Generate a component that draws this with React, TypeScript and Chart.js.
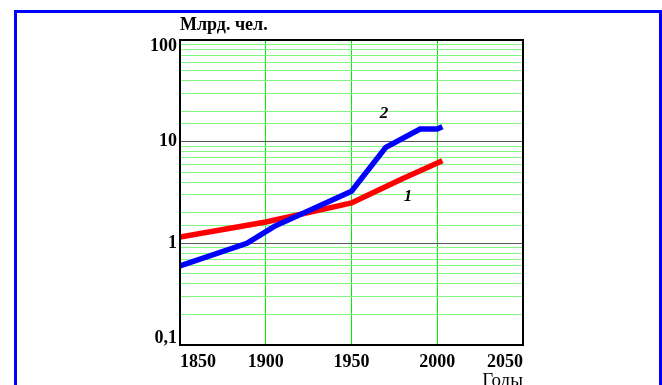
import React, { useEffect, useRef } from "react";
import { Chart, registerables } from "chart.js";

Chart.register(...registerables);

// Series 1 (red)
const years1 = [1850, 1900, 1930, 1950, 1960, 1980, 2003];
const values1 = [1.15, 1.62, 2.1, 2.5, 3.0, 4.35, 6.5];

// Series 2 (blue)
const years2 = [1850, 1889, 1905, 1950, 1970, 1990, 2000, 2003];
const values2 = [0.6, 1.0, 1.47, 3.25, 8.8, 13.3, 13.3, 14.0];

const xTicks = [1850, 1900, 1950, 2000, 2050];
const yLabelValues = [0.1, 1, 10, 100];

const yAxisTitle = "Млрд. чел.";
const xAxisTitle = "Годы";
const seriesLabel1 = "1";
const seriesLabel2 = "2";

const SERIF = "'Liberation Serif', 'Times New Roman', serif";

function isDecade(v: number) {
  const l = Math.log10(v);
  return Math.abs(l - Math.round(l)) < 1e-6;
}

const textPlugin = {
  id: "texts",
  afterDraw(chart: any) {
    const { ctx, chartArea, scales } = chart;
    const x = scales.x;
    const y = scales.y;
    ctx.save();
    // frame
    ctx.strokeStyle = "#000";
    ctx.lineWidth = 2;
    ctx.strokeRect(chartArea.left, chartArea.top, chartArea.right - chartArea.left, chartArea.bottom - chartArea.top);
    ctx.fillStyle = "#000";
    // y axis title
    ctx.font = `bold 18px ${SERIF}`;
    ctx.textAlign = "left";
    ctx.textBaseline = "alphabetic";
    ctx.fillText(yAxisTitle, chartArea.left, chartArea.top - 10);
    // x axis title
    ctx.font = `19px ${SERIF}`;
    ctx.textAlign = "right";
    ctx.fillText(xAxisTitle, chartArea.right, chartArea.bottom + 41);
    // series labels
    ctx.font = `italic bold 17px ${SERIF}`;
    ctx.textAlign = "center";
    ctx.fillText(seriesLabel2, x.getPixelForValue(1969), y.getPixelForValue(20) + 7);
    ctx.fillText(seriesLabel1, x.getPixelForValue(1983), y.getPixelForValue(2.6));
    ctx.restore();
  },
};

export default function App() {
  const ref = useRef<HTMLCanvasElement | null>(null);

  useEffect(() => {
    if (!ref.current) return;
    const chart = new Chart(ref.current, {
      type: "line",
      data: {
        datasets: [
          {
            label: seriesLabel1,
            data: years1.map((yr, i) => ({ x: yr, y: values1[i] })),
            borderColor: "#ff0000",
            backgroundColor: "#ff0000",
            borderWidth: 5.5,
            pointRadius: 0,
            tension: 0,
            order: 1,
          },
          {
            label: seriesLabel2,
            data: years2.map((yr, i) => ({ x: yr, y: values2[i] })),
            borderColor: "#0000ff",
            backgroundColor: "#0000ff",
            borderWidth: 5.5,
            pointRadius: 0,
            tension: 0,
            order: 0,
          },
        ],
      },
      options: {
        animation: false,
        responsive: false,
        events: [],
        layout: { padding: { left: 0, top: 40, right: 139, bottom: 0 } },
        plugins: {
          legend: { display: false },
          tooltip: { enabled: false },
          title: { display: false },
        },
        scales: {
          x: {
            type: "linear",
            min: 1850,
            max: 2050,
            afterFit: (s: any) => {
              s.height = 40;
            },
            afterBuildTicks: (s: any) => {
              s.ticks = xTicks.map((v) => ({ value: v }));
            },
            border: { display: false },
            grid: {
              display: true,
              drawOnChartArea: true,
              drawTicks: false,
              lineWidth: 1,
              color: () => "rgb(0,240,0)",
            },
            ticks: {
              align: "inner",
              padding: 7,
              color: "#000",
              font: { family: SERIF, size: 18, weight: "bold" },
              maxRotation: 0,
              autoSkip: false,
              callback: (v: any) => String(v),
            },
          },
          y: {
            type: "logarithmic",
            min: 0.1,
            max: 100,
            afterFit: (s: any) => {
              s.width = 180;
            },
            border: { display: false },
            grid: {
              drawTicks: false,
              lineWidth: 1,
              color: (c: any) => {
                const v = c.tick ? c.tick.value : 0;
                if (isDecade(v)) {
                  if (Math.abs(v - 1) < 1e-9 || Math.abs(v - 10) < 1e-9) return "#555555";
                  return "#000000";
                }
                return "#80f880";
              },
            },
            ticks: {
              autoSkip: false,
              padding: 3,
              color: "#000",
              font: { family: SERIF, size: 18, weight: "bold", lineHeight: 0.7 },
              callback: (v: any) => {
                const n = Number(v);
                const match = yLabelValues.find((t) => Math.abs(t - n) < 1e-9);
                if (match === undefined) return "";
                const txt = String(match).replace(".", ",");
                if (match === 100) return ["", txt];
                if (match === 0.1) return [txt, ""];
                return txt;
              },
            },
          },
        },
      },
      plugins: [textPlugin],
    } as any);
    return () => chart.destroy();
  }, []);

  return (
    <div
      style={{
        position: "fixed",
        left: 0,
        top: 0,
        width: 662,
        height: 385,
        overflow: "hidden",
        background: "#fff",
      }}
    >
      <div
        style={{
          position: "absolute",
          left: 14,
          top: 10,
          width: 648,
          height: 420,
          boxSizing: "border-box",
          border: "3px solid #0000ff",
        }}
      />
      <canvas
        ref={ref}
        width={662}
        height={385}
        style={{ position: "absolute", left: 0, top: 0, width: 662, height: 385 }}
      />
    </div>
  );
}
